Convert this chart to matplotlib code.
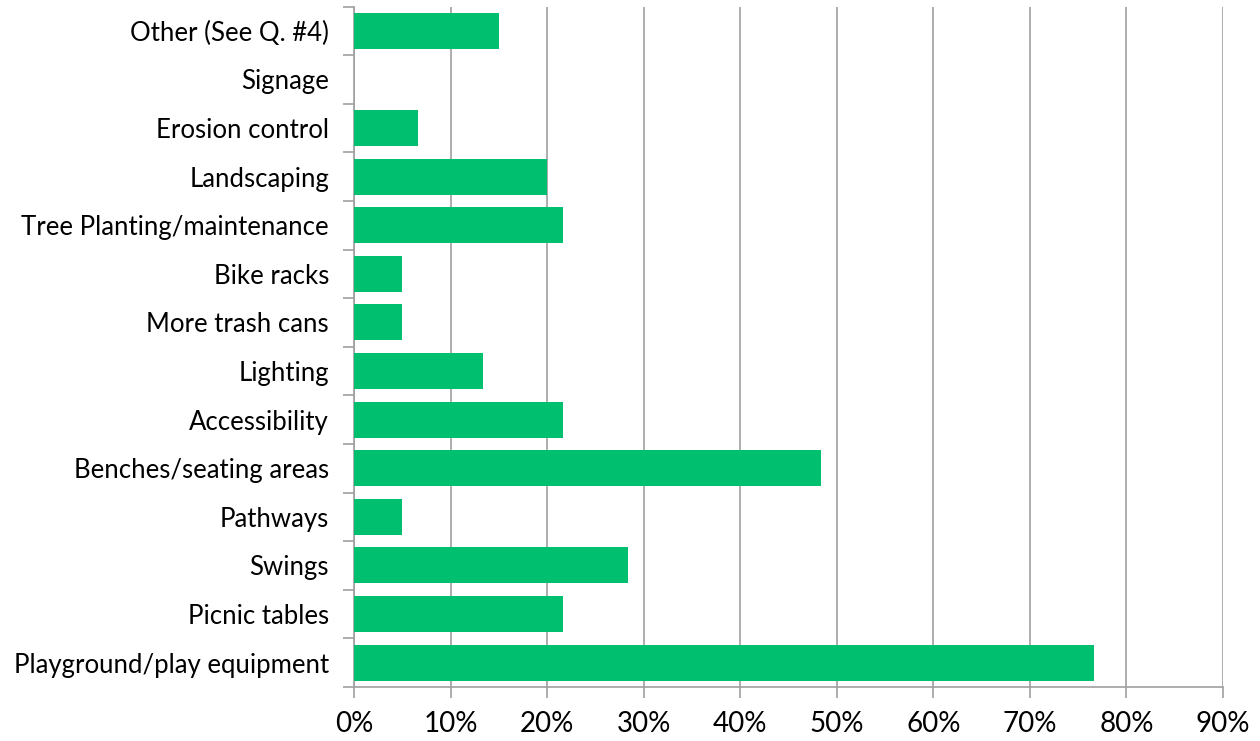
import matplotlib
matplotlib.use("Agg")
import matplotlib.pyplot as plt
import numpy as np
from matplotlib.ticker import FixedLocator, PercentFormatter

categories = [
    "Playground/play equipment", "Picnic tables", "Swings", "Pathways",
    "Benches/seating areas", "Accessibility", "Lighting", "More trash cans",
    "Bike racks", "Tree Planting/maintenance", "Landscaping", "Erosion control",
    "Signage", "Other (See Q. #4)",
]
values = [76.67, 21.67, 28.33, 5.0, 48.33, 21.67, 13.33, 5.0, 5.0, 21.67, 20.0, 6.67, 0.0, 15.0]
xticks = [0, 10, 20, 30, 40, 50, 60, 70, 80, 90]

plt.rcParams['font.family'] = ['Lato', 'DejaVu Sans']

fig = plt.figure(figsize=(12.6, 7.41), dpi=100)
ax = fig.add_axes([354/1260, 1-687/741, (1223-354)/1260, (687-6.5)/741])

y = np.arange(len(categories))
ax.barh(y, values, height=0.74, color="#00BF6F", zorder=3)
ax.set_xlim(0, 90)
ax.set_ylim(-0.5, len(categories)-0.5)
ax.set_xticks(xticks)
ax.xaxis.set_major_formatter(PercentFormatter(decimals=0))
ax.set_yticks(y)
ax.set_yticklabels(categories)
ax.yaxis.set_minor_locator(FixedLocator(np.arange(-0.5, len(categories), 1.0)))
ax.tick_params(axis='y', which='major', length=0, pad=18, labelsize=18.5)
ax.tick_params(axis='y', which='minor', length=8, color="#A0A0A0", width=1.2)
ax.tick_params(axis='x', which='major', length=8, color="#A0A0A0", width=1.2, labelsize=20, pad=9)
ax.grid(axis='x', color="#A0A0A0", linewidth=1.2, zorder=0)
for s in ['top', 'right']:
    ax.spines[s].set_visible(False)
for s in ['left', 'bottom']:
    ax.spines[s].set_color("#A0A0A0")
    ax.spines[s].set_linewidth(1.2)

fig.savefig("out.png", dpi=100)
